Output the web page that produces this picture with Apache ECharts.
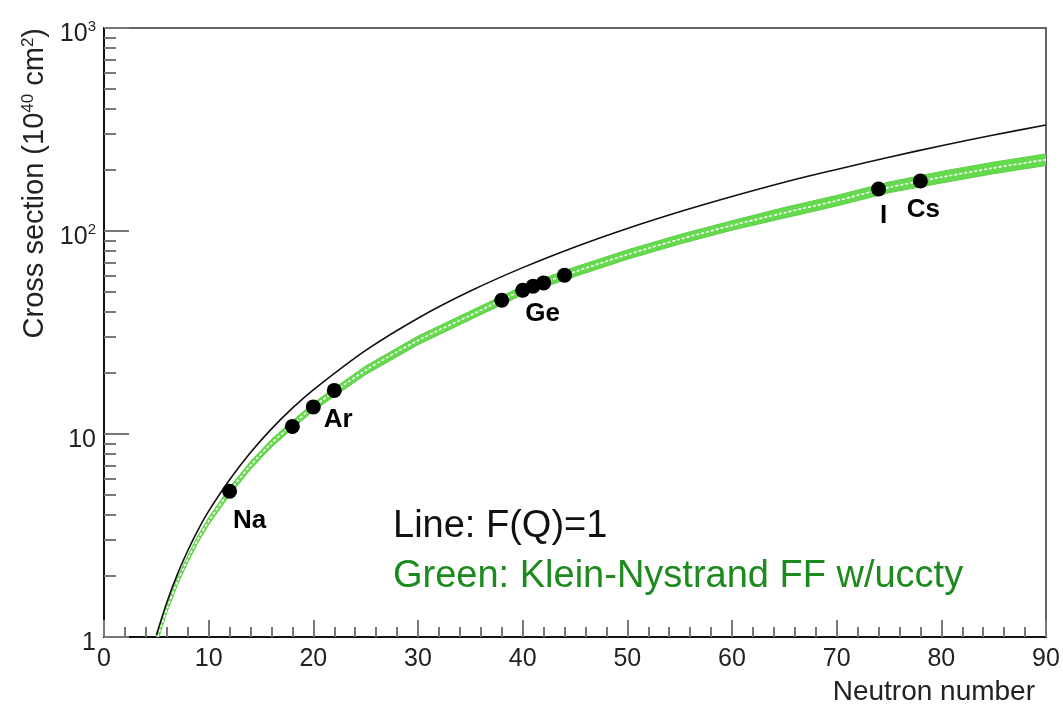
<!DOCTYPE html>
<html>
<head>
<meta charset="utf-8">
<script src="https://cdn.jsdelivr.net/npm/echarts@6/dist/echarts.min.js"></script>
<style>
html,body{margin:0;padding:0;background:#fff;}
#chart{width:1063px;height:705px;}
</style>
</head>
<body>
<div id="chart"></div>
<script>
// ---- data ----
const curveN      = [5, 6, 7, 8, 9, 10, 12, 14, 16, 18, 20, 25, 30, 35, 40, 45, 50, 55, 60, 65, 70, 75, 80, 85, 90];
const lineFQ1     = [1.02, 1.48, 2.03, 2.66, 3.38, 4.17, 5.95, 8.1, 10.6, 13.4, 16.5, 25.8, 37.2, 50.6, 66, 83.5, 103, 124.5, 148, 174, 201, 231, 263, 297, 333];
const greenMid    = [0.95, 1.37, 1.87, 2.42, 3.05, 3.72, 5.22, 7.0, 9.0, 11.1, 13.6, 20.6, 28.9, 38.4, 51.0, 63.0, 76.5, 91.0, 106.5, 123, 141, 164, 184, 204.5, 224.5];
const greenLow    = [0.913, 1.317, 1.798, 2.327, 2.933, 3.577, 4.995, 6.699, 8.612, 10.62, 13.01, 19.62, 27.52, 36.57, 48.57, 59.72, 72.51, 86.26, 100.95, 115.8, 132.8, 154.4, 172.3, 191.5, 210.2];
const greenHigh   = [0.988, 1.425, 1.945, 2.517, 3.172, 3.869, 5.455, 7.315, 9.405, 11.60, 14.21, 21.63, 30.35, 40.32, 53.55, 66.47, 80.71, 96.0, 112.36, 130.6, 149.7, 174.2, 196.5, 218.4, 239.8];

const pointN      = [12, 18, 20, 22, 38, 40, 41, 42, 44, 74, 78];
const pointValue  = [5.22, 10.9, 13.6, 16.4, 45.6, 51.1, 53.5, 55.5, 60.6, 160.9, 176.2];
const pointLabel  = ['Na', '', '', 'Ar', '', '', '', 'Ge', '', 'I', 'Cs'];

const xTicks      = [0, 10, 20, 30, 40, 50, 60, 70, 80, 90];
const yMajorTicks = [1, 10, 100, 1000];
const yMinorTicks = [2,3,4,5,6,7,8,9,20,30,40,50,60,70,80,90,200,300,400,500,600,700,800,900];
const yTickText   = {1: '{b|1}', 10: '{b|10}', 100: '{b|10}{s|2}', 1000: '{b|10}{s|3}'};

const xTitle = 'Neutron number';
const yTitle = 'Cross section (10{s|40} cm{s|2})';
const legendLine1 = 'Line: F(Q)=1';
const legendLine2 = 'Green: Klein-Nystrand FF w/uccty';

// ---- chart ----
const FONT = '"Liberation Sans", Arial, Helvetica, sans-serif';
const chart = echarts.init(document.getElementById('chart'), null, {renderer: 'canvas'});

const labelOffsets = {Na: [20, 30], Ar: [4, 29], Ge: [-1, 31], I: [5, 27], Cs: [3, 29]};

const scatterData = pointN.map((n, i) => {
  const name = pointLabel[i];
  const item = {value: [n, pointValue[i]]};
  if (name) {
    item.label = {
      show: true, formatter: name, position: 'inside',
      offset: labelOffsets[name], color: '#000', opacity: 1,
      fontFamily: FONT, fontSize: 26, fontWeight: 'bold'
    };
  }
  return item;
});

const option = {
  backgroundColor: '#fff',
  animation: false,
  grid: {left: 104, right: 17, top: 28, bottom: 68, show: true, borderColor: '#666', borderWidth: 2, backgroundColor: 'transparent'},
  xAxis: {
    type: 'value', min: xTicks[0], max: xTicks[xTicks.length - 1], interval: 10,
    axisLine: {show: true, onZero: false, lineStyle: {color: '#111', width: 2}},
    axisTick: {show: true, inside: true, length: 17, lineStyle: {color: '#777', width: 2}},
    minorTick: {show: true, splitNumber: 5, length: 10, lineStyle: {color: '#777', width: 2}},
    axisLabel: {color: '#222', fontFamily: FONT, fontSize: 25, margin: 10},
    splitLine: {show: false}
  },
  yAxis: [
    {
      type: 'log', logBase: 10, min: 1, max: 1000,
      axisLine: {show: true, lineStyle: {color: '#111', width: 2}},
      axisTick: {show: true, inside: true, length: 25, customValues: yMajorTicks, lineStyle: {color: '#777', width: 2}},
      axisLabel: {
        customValues: yMajorTicks, margin: 8, padding: [10, 0, 0, 0],
        formatter: v => yTickText[Math.round(v)] || '',
        rich: {
          b: {fontFamily: FONT, fontSize: 25, color: '#222', lineHeight: 28, verticalAlign: 'bottom'},
          s: {fontFamily: FONT, fontSize: 15, color: '#222', lineHeight: 28, verticalAlign: 'top'}
        }
      },
      splitLine: {show: false}, minorTick: {show: false}
    },
    {
      type: 'log', logBase: 10, min: 1, max: 1000, position: 'left',
      axisLine: {show: false},
      axisTick: {show: true, inside: true, length: 12, customValues: yMinorTicks, lineStyle: {color: '#777', width: 2}},
      axisLabel: {show: false},
      splitLine: {show: false}
    }
  ],
  series: [
    {
      type: 'custom', clip: true, z: 2,
      data: [0],
      renderItem: function (params, api) {
        const up = curveN.map((n, i) => api.coord([n, greenHigh[i]]));
        const lo = curveN.map((n, i) => api.coord([n, greenLow[i]])).reverse();
        const mid = curveN.map((n, i) => api.coord([n, greenMid[i]]));
        return {
          type: 'group',
          children: [
            {type: 'polygon', shape: {points: up.concat(lo)}, style: {fill: '#66da4e', stroke: '#5ccf44', lineWidth: 1}},
            {type: 'polyline', shape: {points: mid, smooth: 0.3}, style: {stroke: '#ffffff', lineWidth: 1.6, lineDash: [3, 2], fill: null}}
          ]
        };
      }
    },
    {
      type: 'line', z: 3, showSymbol: false, smooth: 0.3, clip: true,
      data: curveN.map((n, i) => [n, lineFQ1[i]]),
      lineStyle: {color: '#111', width: 1.6}
    },
    {
      type: 'scatter', z: 4, symbol: 'circle', symbolSize: 15,
      itemStyle: {color: '#000', opacity: 1},
      emphasis: {disabled: true},
      data: scatterData
    }
  ],
  graphic: [
    {type: 'text', x: 1035, y: 692, style: {text: xTitle, fontFamily: FONT, fontSize: 28, fill: '#222', align: 'right', verticalAlign: 'middle'}},
    {type: 'text', x: 49, y: 28, rotation: Math.PI / 2, style: {
      text: yTitle, fontFamily: FONT, fontSize: 29, fill: '#222', align: 'right', verticalAlign: 'bottom',
      rich: {s: {fontFamily: FONT, fontSize: 17, fill: '#222', verticalAlign: 'top'}}
    }},
    {type: 'text', x: 393, y: 527, style: {text: legendLine1, fontFamily: FONT, fontSize: 38, fill: '#111', align: 'left', verticalAlign: 'middle'}},
    {type: 'text', x: 393, y: 577, style: {text: legendLine2, fontFamily: FONT, fontSize: 38, fill: '#1c8a1c', align: 'left', verticalAlign: 'middle'}}
  ]
};
chart.setOption(option);
</script>
</body>
</html>
